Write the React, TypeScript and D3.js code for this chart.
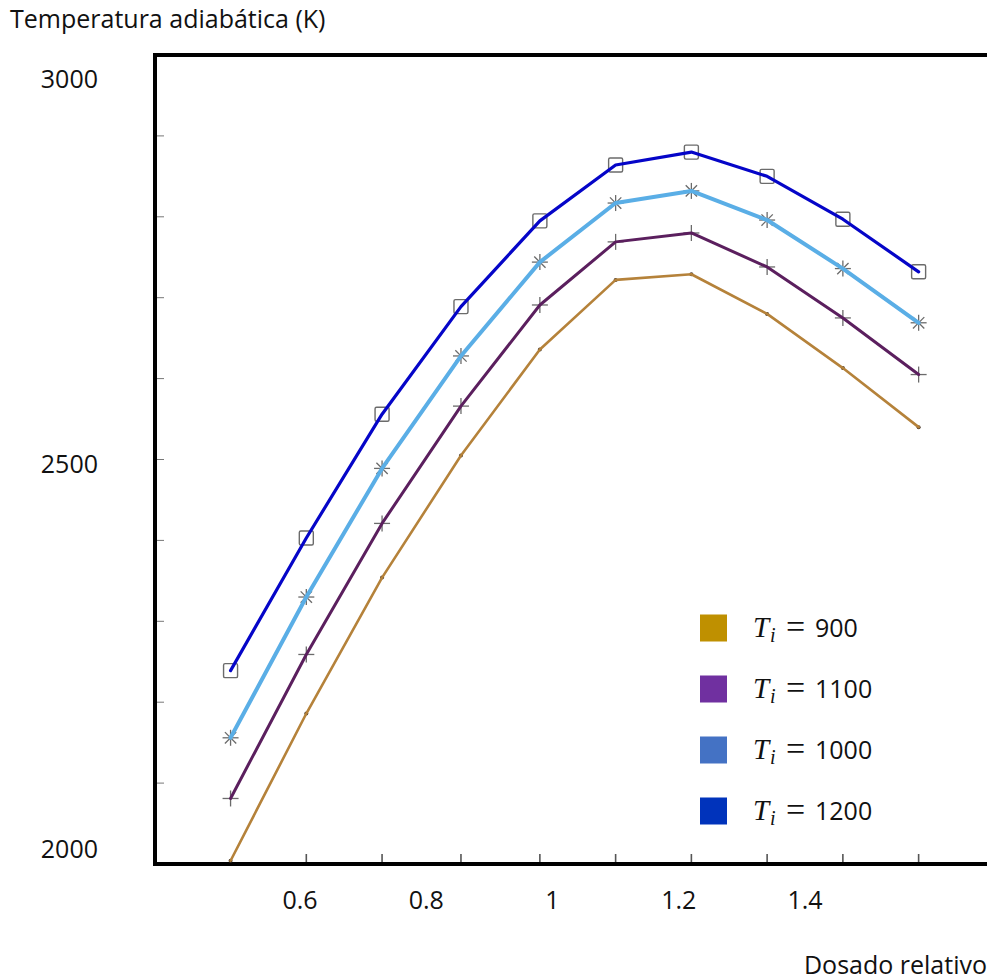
import React from 'react';
import * as d3 from 'd3';

// Relative equivalence ratio (x) and adiabatic flame temperature (K) per initial temperature
const dosado = [0.49, 0.61, 0.73, 0.855, 0.98, 1.1, 1.22, 1.34, 1.46, 1.58];
const temp1200 = [2239, 2403, 2556, 2689, 2795, 2864, 2880, 2850, 2797, 2732];
const temp1000 = [2156, 2330, 2489, 2628, 2744, 2817, 2832, 2796, 2736, 2669];
const temp1100 = [2081, 2259, 2421, 2566, 2691, 2769, 2780, 2738, 2675, 2605];
const temp900 = [2004, 2186, 2354, 2505, 2636, 2722, 2729, 2680, 2613, 2540];

const xTickLabels = [0.6, 0.8, 1, 1.2, 1.4];
const yTickLabels = [2000, 2500, 3000];
const yMinorTicks = [2100, 2200, 2300, 2400, 2500, 2600, 2700, 2800, 2900];

const legendLabels = ['900', '1100', '1000', '1200'];
const legendColors = ['#bf9000', '#7030a0', '#4472c4', '#0033bb'];

const series = [
  { name: 'T900', values: temp900, color: '#b5823a', width: 2.6, marker: 'dot' },
  { name: 'T1100', values: temp1100, color: '#5b1f5e', width: 3, marker: 'plus' },
  { name: 'T1000', values: temp1000, color: '#5aaee6', width: 4, marker: 'star' },
  { name: 'T1200', values: temp1200, color: '#0505c8', width: 3.2, marker: 'square' },
];

const W = 987;
const H = 980;
const frame = { left: 155, top: 55, bottom: 864, right: 995 };
const font = "'Open Sans', sans-serif";
const mathFont = "'Liberation Serif', serif";
const markerColor = '#6b6b6b';

const Marker = ({ type, cx, cy }: { type: string; cx: number; cy: number }) => {
  if (type === 'square') {
    return <rect x={cx - 7} y={cy - 7} width={14} height={14} rx={1.5} fill="none" stroke={markerColor} strokeWidth={1.4} />;
  }
  if (type === 'plus') {
    return (
      <g stroke={markerColor} strokeWidth={1.3}>
        <line x1={cx - 8} x2={cx + 8} y1={cy} y2={cy} />
        <line x1={cx} x2={cx} y1={cy - 8} y2={cy + 8} />
      </g>
    );
  }
  if (type === 'star') {
    const r = 8;
    const d = r * Math.SQRT1_2;
    return (
      <g stroke={markerColor} strokeWidth={1.3}>
        <line x1={cx - r} x2={cx + r} y1={cy} y2={cy} />
        <line x1={cx} x2={cx} y1={cy - r} y2={cy + r} />
        <line x1={cx - d} x2={cx + d} y1={cy - d} y2={cy + d} />
        <line x1={cx - d} x2={cx + d} y1={cy + d} y2={cy - d} />
      </g>
    );
  }
  return <circle cx={cx} cy={cy} r={2} fill="#4a3a2a" />;
};

const App = () => {
  const x = d3.scaleLinear().domain([0.6, 1.4]).range([300, 805]);
  const y = d3.scaleLinear().domain([2000, 3000]).range([frame.bottom, frame.top]);
  // overlaid tick labels sit slightly off the scanned grid
  const yLabel = d3.scaleLinear().domain([2000, 3000]).range([858, 88]);
  const legendY = d3.scalePoint<string>().domain(legendLabels).range([628, 811]);

  const line = d3.line<number>()
    .x((_, i) => x(dosado[i]))
    .y(d => y(d));

  return (
    <svg width={W} height={H} style={{ position: 'absolute', left: 0, top: 0, background: '#fff' }}>
      <rect width={W} height={H} fill="#ffffff" />

      {/* minor ticks */}
      <g stroke="#777" strokeWidth={1}>
        {yMinorTicks.map(v => (
          <line key={v} x1={frame.left} x2={frame.left + 9} y1={y(v)} y2={y(v)} />
        ))}
      </g>
      <g stroke="#555" strokeWidth={1.6}>
        {dosado.slice(1).map(v => (
          <line key={v} x1={x(v)} x2={x(v)} y1={frame.bottom} y2={frame.bottom - 10} />
        ))}
      </g>

      {/* frame */}
      <path
        d={`M${frame.right},${frame.top}H${frame.left}V${frame.bottom}H${frame.right}`}
        fill="none"
        stroke="#000"
        strokeWidth={4}
      />

      {/* markers */}
      {series.map(s => (
        <g key={s.name + 'm'}>
          {s.values.map((v, i) => (
            <Marker key={i} type={s.marker} cx={x(dosado[i])} cy={y(v)} />
          ))}
        </g>
      ))}

      {/* lines */}
      {series.map(s => (
        <path
          key={s.name}
          d={line(s.values) || ''}
          fill="none"
          stroke={s.color}
          strokeWidth={s.width}
          strokeLinejoin="round"
          strokeLinecap="round"
        />
      ))}

      {/* legend */}
      {legendLabels.map((lab, i) => {
        const cy = legendY(lab) as number;
        return (
          <g key={lab} fill="#111">
            <rect x={700} y={cy - 13.5} width={27} height={27} fill={legendColors[i]} />
            <text x={753} y={cy + 9} fontFamily={mathFont} fontStyle="italic" fontSize={29}>T</text>
            <text x={770} y={cy + 14} fontFamily={mathFont} fontStyle="italic" fontSize={20}>i</text>
            <text x={786} y={cy + 10} fontFamily={mathFont} fontSize={34}>=</text>
            <text x={815} y={cy + 9} fontFamily={font} fontSize={25}>{lab}</text>
          </g>
        );
      })}

      {/* tick labels */}
      {xTickLabels.map(v => (
        <text key={v} x={x(v)} y={909} textAnchor="middle" fontFamily={font} fontSize={25} fill="#111">
          {v}
        </text>
      ))}
      {yTickLabels.map(v => (
        <text key={v} x={98} y={yLabel(v)} textAnchor="end" fontFamily={font} fontSize={25} fill="#111">
          {v}
        </text>
      ))}

      {/* axis titles */}
      <text x={10} y={28} fontFamily={font} fontSize={25} fill="#111">Temperatura adiabática (K)</text>
      <text x={987} y={974} textAnchor="end" fontFamily={font} fontSize={25} fill="#111">Dosado relativo</text>
    </svg>
  );
};

export default App;
